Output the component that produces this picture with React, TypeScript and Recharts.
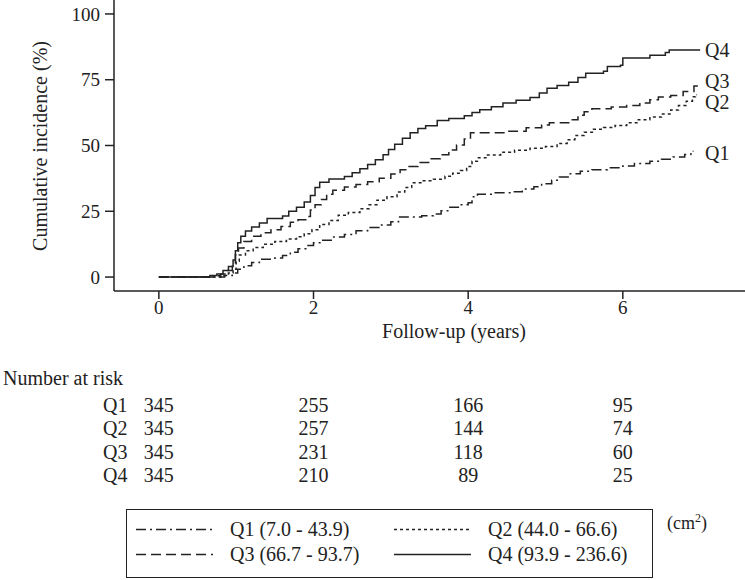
import React from "react";
import { LineChart, Line, XAxis, YAxis, Label } from "recharts";

// time (years) and cumulative incidence (%) at each step
const q1Steps: [number, number][] = [
  [0, 0], [0.75, 0], [0.85, 0.6], [0.95, 1.5], [1.02, 3], [1.1, 4.3], [1.2, 5.5],
  [1.3, 6.8], [1.5, 7.2], [1.6, 8.2], [1.7, 9.4], [1.8, 10.8], [1.9, 12], [2.0, 13],
  [2.1, 14], [2.25, 15.2], [2.4, 16.2], [2.55, 17.6], [2.7, 18.8], [2.85, 19.8],
  [3.0, 21], [3.1, 22.8], [3.4, 23.3], [3.55, 24], [3.65, 25.2], [3.75, 26.5],
  [3.9, 27.5], [4.0, 28.2], [4.05, 30.5], [4.12, 31.5], [4.35, 32], [4.55, 32.4],
  [4.7, 33.5], [4.85, 34.3], [4.95, 35.5], [5.08, 36.8], [5.18, 38], [5.32, 39.3],
  [5.45, 40.2], [5.6, 40.8], [5.8, 41.5], [6.0, 42.2], [6.15, 43.2], [6.35, 44],
  [6.5, 44.8], [6.65, 45.6], [6.8, 46.6], [6.88, 47.5], [6.91, 48],
];

const q2Steps: [number, number][] = [
  [0, 0], [0.7, 0], [0.8, 0.6], [0.9, 1.5], [0.96, 3], [1.0, 6], [1.04, 8.4],
  [1.12, 10], [1.22, 11.2], [1.35, 12.5], [1.5, 13.5], [1.65, 14.5], [1.78, 15.3],
  [1.88, 16.5], [1.98, 18], [2.08, 20], [2.2, 21.5], [2.32, 23.5], [2.45, 24.5],
  [2.6, 26], [2.72, 27.5], [2.82, 29.2], [2.95, 30.5], [3.08, 32.3], [3.18, 34],
  [3.27, 35.8], [3.4, 36.6], [3.55, 37.2], [3.7, 38.3], [3.8, 39.5], [3.9, 40.5],
  [3.98, 42], [4.05, 44], [4.12, 45.3], [4.25, 46.4], [4.42, 47.4], [4.6, 48.2],
  [4.8, 49], [5.0, 49.6], [5.15, 50.8], [5.28, 52.2], [5.38, 53.8], [5.5, 55],
  [5.62, 56.2], [5.75, 56.8], [5.9, 57.6], [6.05, 58.6], [6.2, 59.8], [6.35, 60.8],
  [6.5, 62], [6.62, 63.5], [6.72, 65.2], [6.82, 66.8], [6.9, 68.5], [6.94, 69.3],
  [6.96, 69.3],
];

const q3Steps: [number, number][] = [
  [0, 0], [0.65, 0], [0.72, 0.5], [0.8, 1.2], [0.88, 2.5], [0.95, 5], [0.99, 8.5],
  [1.03, 11], [1.1, 13.5], [1.2, 15.5], [1.32, 16.8], [1.45, 18], [1.58, 19.2],
  [1.7, 20.8], [1.8, 21.8], [1.9, 23], [1.96, 25.5], [2.02, 27.5], [2.1, 29.5],
  [2.17, 31.5], [2.25, 33], [2.4, 34.2], [2.55, 35.2], [2.7, 36.2], [2.85, 37.6],
  [3.0, 39.2], [3.12, 40.8], [3.22, 42], [3.35, 43.5], [3.5, 45], [3.64, 46.5],
  [3.75, 48.3], [3.85, 50.2], [3.95, 52.5], [4.03, 54.8], [4.5, 55.4], [4.75, 56.7],
  [4.95, 57.8], [5.05, 58.6], [5.3, 59.8], [5.42, 61.5], [5.5, 62.8], [5.6, 64],
  [5.85, 64.6], [6.05, 65.2], [6.22, 66.2], [6.35, 67.4], [6.46, 68.4], [6.62, 69],
  [6.78, 70.5], [6.92, 72.6], [6.97, 72.6],
];

const q4Steps: [number, number][] = [
  [0, 0], [0.6, 0], [0.66, 0.6], [0.75, 1.2], [0.83, 2.5], [0.9, 4], [0.96, 6.5],
  [0.99, 10], [1.02, 13], [1.06, 15.5], [1.12, 17.5], [1.2, 19], [1.3, 20.5],
  [1.4, 22.3], [1.6, 23.2], [1.68, 25], [1.78, 26.5], [1.88, 28.5], [1.96, 31],
  [2.02, 34], [2.08, 36], [2.2, 37.3], [2.4, 38.2], [2.5, 39.6], [2.6, 41.2],
  [2.7, 42.8], [2.8, 44.6], [2.9, 46.5], [2.97, 48.5], [3.05, 50.5], [3.15, 52.8],
  [3.25, 54.8], [3.35, 56.5], [3.45, 57.5], [3.6, 59.5], [3.75, 60.3], [3.95, 61.3],
  [4.05, 62.5], [4.15, 63.6], [4.3, 64.7], [4.45, 66.2], [4.62, 67.2], [4.8, 68.2],
  [4.92, 70], [5.02, 71.8], [5.15, 72.8], [5.3, 74], [5.42, 75.8], [5.52, 77.5],
  [5.75, 78.2], [5.8, 80], [5.97, 80.5], [6.0, 83.3], [6.35, 84.3], [6.55, 85.3],
  [6.6, 86.3], [7.0, 86.3],
];

const xTicks = [0, 2, 4, 6];
const yTicks = [0, 25, 50, 75, 100];

// number at risk at each x tick
const riskQ1 = [345, 255, 166, 95];
const riskQ2 = [345, 257, 144, 74];
const riskQ3 = [345, 231, 118, 60];
const riskQ4 = [345, 210, 89, 25];

const groupNames = ["Q1", "Q2", "Q3", "Q4"];
const groupRanges = ["(7.0 - 43.9)", "(44.0 - 66.6)", "(66.7 - 93.7)", "(93.9 - 236.6)"];

const INK = "#222";
const FONT = "Liberation Serif, Times New Roman, serif";

const series = [
  { name: "Q1", steps: q1Steps, risk: riskQ1, dash: "10 4 2 4", labelDy: 2 },
  { name: "Q2", steps: q2Steps, risk: riskQ2, dash: "3 3", labelDy: 7 },
  { name: "Q3", steps: q3Steps, risk: riskQ3, dash: "10 5", labelDy: -5 },
  { name: "Q4", steps: q4Steps, risk: riskQ4, dash: undefined, labelDy: 0 },
];

const toRows = (steps: [number, number][]) => steps.map(([t, v]) => ({ t, v }));

const makeEndLabel = (name: string, last: number, dy: number) => (props: any) => {
  if (props.index !== last) return null;
  const y = props.y ?? props.viewBox?.y;
  if (y == null) return null;
  return (
    <text x={705} y={y + dy} dy="0.35em" fontSize={20} fill={INK} style={{ fontFamily: FONT }}>
      {name}
    </text>
  );
};

const YTitle = () => {
  const cx = 40;
  const cy = 146;
  return (
    <text
      x={cx}
      y={cy}
      transform={`rotate(-90, ${cx}, ${cy})`}
      textAnchor="middle"
      dominantBaseline="central"
      fontSize={20}
      fill={INK}
      style={{ fontFamily: FONT }}
    >
      Cumulative incidence (%)
    </text>
  );
};

const XTitle = (props: any) => {
  const vb = props.viewBox || { x: 114, y: 291 };
  return (
    <text x={vb.x + 340} y={vb.y + 47} textAnchor="middle" fontSize={20} fill={INK} style={{ fontFamily: FONT }}>
      Follow-up (years)
    </text>
  );
};

const riskLabel = (name: string, withHeader: boolean) => (props: any) => {
  const vb = props.viewBox || { x: 114, y: 0 };
  return (
    <g fontSize={20} fill={INK} style={{ fontFamily: FONT }}>
      {withHeader && (
        <text x={3} y={vb.y - 13}>
          Number at risk
        </text>
      )}
      <text x={vb.x - 11} y={vb.y + 14.2}>
        {name}
      </text>
    </g>
  );
};

const tickStyle = { fill: INK, fontSize: 19, style: { fontFamily: FONT } };

export default function App() {
  return (
    <div
      style={{
        position: "absolute",
        left: 0,
        top: 0,
        width: 745,
        height: 580,
        background: "#fff",
        fontFamily: FONT,
      }}
    >
      <LineChart
        width={745}
        height={500}
        margin={{ top: 0, right: 0, bottom: 8.9, left: 0 }}
        style={{ fontFamily: FONT }}
      >
        <XAxis
          dataKey="t"
          type="number"
          domain={[-0.58, 7.58]}
          allowDataOverflow
          ticks={xTicks}
          interval={0}
          height={106.5}
          tickSize={8}
          tickMargin={2}
          stroke={INK}
          strokeWidth={1.5}
          tick={tickStyle}
        >
          <Label content={XTitle} />
        </XAxis>
        {series.map((s, i) => (
          <XAxis
            key={`risk-${s.name}`}
            xAxisId={`r${i}`}
            dataKey="t"
            type="number"
            domain={[-0.58, 7.58]}
            allowDataOverflow
            ticks={xTicks}
            interval={0}
            height={23.4}
            axisLine={false}
            tickLine={false}
            tickSize={0}
            tickMargin={0}
            tickFormatter={(v: number) => String(s.risk[xTicks.indexOf(v)])}
            tick={{ fill: INK, fontSize: 20, style: { fontFamily: FONT } }}
          >
            <Label content={riskLabel(s.name, i === 0)} />
          </XAxis>
        ))}
        <YAxis
          type="number"
          domain={[-5.3, 105.3]}
          allowDataOverflow
          ticks={yTicks}
          interval={0}
          width={114}
          tickSize={9}
          tickMargin={5}
          stroke={INK}
          strokeWidth={1.5}
          tick={tickStyle}
        >
          <Label content={YTitle} />
        </YAxis>
        {series.map((s) => (
          <Line
            key={s.name}
            data={toRows(s.steps)}
            dataKey="v"
            name={s.name}
            type="stepAfter"
            stroke={INK}
            strokeWidth={1.5}
            strokeDasharray={s.dash}
            dot={false}
            activeDot={false}
            isAnimationActive={false}
            label={makeEndLabel(s.name, s.steps.length - 1, s.labelDy)}
          />
        ))}
        {/* invisible carriers so each at-risk axis gets its ticks */}
        {series.map((s, i) => (
          <Line
            key={`carrier-${s.name}`}
            xAxisId={`r${i}`}
            data={toRows(s.steps)}
            dataKey="v"
            stroke="none"
            dot={false}
            activeDot={false}
            legendType="none"
            isAnimationActive={false}
          />
        ))}
      </LineChart>

      <div
        style={{
          position: "absolute",
          left: 126,
          top: 509,
          width: 527,
          height: 69,
          boxSizing: "border-box",
          border: `1.5px solid ${INK}`,
          paddingLeft: 9,
          paddingTop: 7,
          fontSize: 20,
          color: INK,
        }}
      >
        {[0, 1].map((row) => (
          <div key={row} style={{ display: "flex", height: 25, alignItems: "center" }}>
            {[row * 2, row * 2 + 1].map((gi) => (
              <div key={gi} style={{ display: "flex", alignItems: "center", width: 267 }}>
                <svg width={77} height={25} style={{ marginRight: 17 }}>
                  <line
                    x1={0}
                    x2={77}
                    y1={12.5}
                    y2={12.5}
                    stroke={INK}
                    strokeWidth={1.5}
                    strokeDasharray={series[gi].dash}
                  />
                </svg>
                <span style={{ whiteSpace: "nowrap", lineHeight: "25px" }}>
                  {groupNames[gi]} {groupRanges[gi]}
                </span>
              </div>
            ))}
          </div>
        ))}
      </div>
      <div
        style={{
          position: "absolute",
          left: 667,
          top: 511,
          fontSize: 18,
          color: INK,
          whiteSpace: "nowrap",
        }}
      >
        (cm<sup style={{ fontSize: 12 }}>2</sup>)
      </div>
    </div>
  );
}
